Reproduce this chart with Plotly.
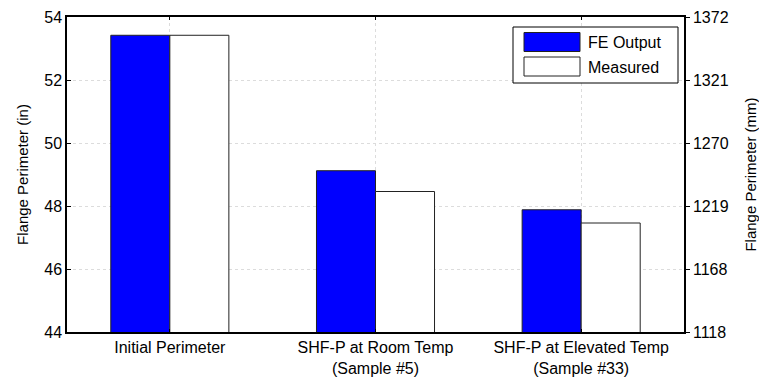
import plotly.graph_objects as go

categories = ["Initial Perimeter", "SHF-P at Room Temp<br>(Sample #5)", "SHF-P at Elevated Temp<br>(Sample #33)"]
series_names = ["FE Output", "Measured"]
fe_output = [53.42, 49.12, 47.88]
measured = [53.42, 48.46, 47.46]
y_in_ticks = [44, 46, 48, 50, 52, 54]
y_mm_ticks = [v * 25.4 for v in y_in_ticks]
y_mm_labels = ["1118", "1168", "1219", "1270", "1321", "1372"]

FONT = "Liberation Sans, Arial, sans-serif"
colors = ["#0000FF", "#FFFFFF"]

fig = go.Figure()
for name, vals, col in zip(series_names, [fe_output, measured], colors):
    fig.add_trace(go.Bar(
        x=categories, y=vals, name=name,
        marker=dict(color=col, line=dict(color="#222222", width=1)),
        showlegend=False,
    ))

# invisible trace to activate the mm axis
fig.add_trace(go.Scatter(
    x=categories, y=[v * 25.4 for v in fe_output], yaxis="y2",
    mode="markers", marker=dict(opacity=0), showlegend=False, hoverinfo="skip",
))

# manual legend (MATLAB-style)
def px(xp):
    return (xp - 67) / 617.0

def py(yp):
    return (332 - yp) / 315.0

shapes = [
    dict(type="rect", xref="paper", yref="paper", x0=px(513), x1=px(678), y0=py(83), y1=py(27),
         line=dict(color="black", width=1), fillcolor="white", layer="above"),
]
annotations = []
rows = [(32.5, 51.5, 42.5), (57, 76, 67)]
for (t, b, c), name, col in zip(rows, series_names, colors):
    shapes.append(dict(type="rect", xref="paper", yref="paper", x0=px(524), x1=px(580), y0=py(b), y1=py(t),
                       line=dict(color="#222222", width=1), fillcolor=col, layer="above"))
    annotations.append(dict(xref="paper", yref="paper", x=px(586), y=py(c), text=name, showarrow=False,
                            xanchor="left", yanchor="middle", font=dict(family=FONT, size=16, color="black")))

fig.update_layout(
    width=759, height=380,
    margin=dict(l=67, r=75, t=17, b=48, autoexpand=False),
    paper_bgcolor="white", plot_bgcolor="white",
    barmode="group", bargap=0.426, bargroupgap=0,
    font=dict(family=FONT, size=16, color="black"),
    shapes=shapes, annotations=annotations,
    xaxis=dict(
        type="category", range=[-0.5, 2.5], automargin=False,
        showline=True, linecolor="black", linewidth=1.5, mirror="ticks",
        ticks="inside", ticklen=3, tickcolor="black",
        showgrid=True, gridcolor="#dcdcdc", griddash="dot", gridwidth=1,
        tickfont=dict(size=16), tickangle=0,
    ),
    yaxis=dict(
        range=[44, 54], tickvals=y_in_ticks, automargin=False,
        showline=True, linecolor="black", linewidth=1.5, mirror=False,
        ticks="inside", ticklen=4, tickcolor="black",
        showgrid=True, gridcolor="#dcdcdc", griddash="dot", gridwidth=1,
        zeroline=False,
        title=dict(text="Flange Perimeter (in)", font=dict(size=15), standoff=12),
        tickfont=dict(size=16),
    ),
    yaxis2=dict(
        overlaying="y", side="right", range=[25.4 * 44, 25.4 * 54], automargin=False,
        tickvals=y_mm_ticks, ticktext=y_mm_labels,
        showline=True, linecolor="black", linewidth=1.5,
        ticks="outside", ticklen=4, tickcolor="black",
        showgrid=False, zeroline=False,
        title=dict(text="Flange Perimeter (mm)", font=dict(size=15), standoff=22),
        tickfont=dict(size=16),
    ),
)

fig.write_html("out.html")
